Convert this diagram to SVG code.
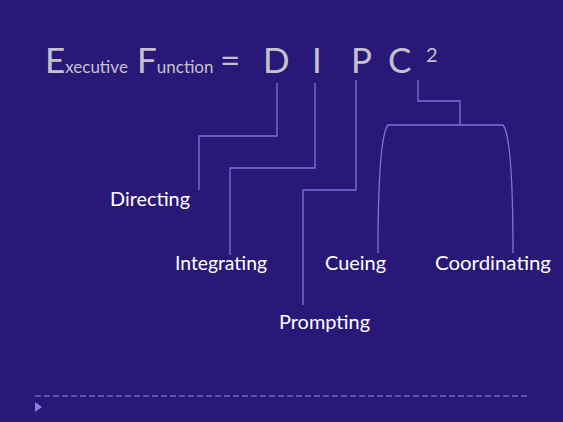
<svg xmlns="http://www.w3.org/2000/svg" width="563" height="422" viewBox="0 0 563 422">
<style>
.t{font-family:Lato,"Open Sans","Liberation Sans",sans-serif;fill:#c4c2cc}
.l{font-family:Lato,"Open Sans","Liberation Sans",sans-serif;fill:#ffffff;font-size:19.5px}
.c{fill:none;stroke:#7676e0;stroke-width:1.3}
</style>
<rect width="563" height="422" fill="#2a1878"/>
<g id="title">
<text class="t" y="73"><tspan x="45" font-size="35">E</tspan><tspan font-size="17">xecutive</tspan><tspan x="137" font-size="35">F</tspan><tspan font-size="17">unction</tspan><tspan x="220" font-size="35">=</tspan><tspan x="263" font-size="35">D</tspan><tspan x="312" font-size="35">I</tspan><tspan x="351" font-size="35">P</tspan><tspan x="388" font-size="35">C</tspan></text>
<text class="t" x="426" y="62" font-size="20">2</text>
</g>
<g id="connectors">
<polyline class="c" points="277,83 277,136 199,136 199,190"/>
<polyline class="c" points="315,83 315,168 230,168 230,255"/>
<polyline class="c" points="356,80 356,190 303,190 303,305"/>
<polyline class="c" points="418,80 418,101 460,101 460,125"/>
<path class="c" d="M378,253 C378,190 380,135 388,125 L503,125 C511,135 513,190 513,253"/>
</g>
<g id="directing"><text class="l" x="110" y="206" textLength="80" lengthAdjust="spacingAndGlyphs">Directing</text></g>
<g id="integrating"><text class="l" x="175" y="270" textLength="92" lengthAdjust="spacingAndGlyphs">Integrating</text></g>
<g id="cueing"><text class="l" x="325" y="270" textLength="61" lengthAdjust="spacingAndGlyphs">Cueing</text></g>
<g id="coordinating"><text class="l" x="435" y="270" textLength="116" lengthAdjust="spacingAndGlyphs">Coordinating</text></g>
<g id="prompting"><text class="l" x="279" y="329" textLength="91" lengthAdjust="spacingAndGlyphs">Prompting</text></g>
<g id="footer">
<line x1="35" y1="396" x2="530" y2="396" stroke="#9484ee" stroke-width="1" stroke-dasharray="6,3"/>
<polygon points="35,402 42,407 35,412" fill="#8a7ce8"/>
</g>
</svg>
